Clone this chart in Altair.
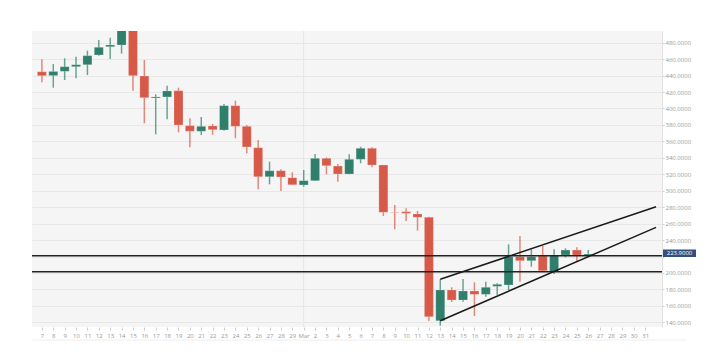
import altair as alt
import pandas as pd

# ---- data ----
dates = [
    "2024-02-07", "2024-02-08", "2024-02-09", "2024-02-10", "2024-02-11", "2024-02-12",
    "2024-02-13", "2024-02-14", "2024-02-15", "2024-02-16", "2024-02-17", "2024-02-18",
    "2024-02-19", "2024-02-20", "2024-02-21", "2024-02-22", "2024-02-23", "2024-02-24",
    "2024-02-25", "2024-02-26", "2024-02-27", "2024-02-28", "2024-02-29",
    "2024-03-01", "2024-03-02", "2024-03-03", "2024-03-04", "2024-03-05", "2024-03-06",
    "2024-03-07", "2024-03-08", "2024-03-09", "2024-03-10", "2024-03-11", "2024-03-12",
    "2024-03-13", "2024-03-14", "2024-03-15", "2024-03-16", "2024-03-17", "2024-03-18",
    "2024-03-19", "2024-03-20", "2024-03-21", "2024-03-22", "2024-03-23", "2024-03-24",
    "2024-03-25", "2024-03-26",
]
opens = [444.7, 440.0, 445.2, 450.8, 453.2, 465.0, 475.1, 477.2, 505.0, 439.5, 412.7, 414.0,
         421.6, 379.1, 372.3, 378.7, 373.8, 403.4, 378.3, 352.3, 317.0, 324.3, 315.8,
         307.0, 312.2, 339.4, 330.0, 320.3, 338.2, 351.6, 331.3, 274.0, 274.5, 271.7, 267.7,
         141.9, 179.3, 167.1, 178.1, 174.0, 183.7, 185.4, 219.8, 214.9, 220.6, 201.5, 221.8,
         227.9, 221.0]
highs = [459.8, 454.1, 461.0, 463.0, 470.3, 483.3, 486.0, 512.0, 510.0, 458.9, 417.2, 427.7,
         425.3, 388.1, 389.6, 381.1, 405.4, 409.5, 379.9, 361.7, 335.3, 326.0, 322.4,
         325.2, 344.6, 340.5, 332.5, 344.3, 353.5, 352.8, 331.5, 282.6, 278.6, 275.3, 268.5,
         192.3, 182.6, 192.6, 188.6, 189.4, 187.4, 234.8, 244.9, 228.8, 232.8, 228.8, 230.0,
         231.2, 227.9]
lows = [431.8, 425.3, 434.6, 436.7, 440.7, 464.2, 460.2, 466.6, 421.6, 382.0, 368.6, 386.8,
        371.0, 352.8, 367.7, 368.1, 373.0, 363.8, 345.5, 301.7, 307.8, 299.6, 307.0,
        304.9, 311.8, 320.0, 311.0, 320.0, 333.4, 328.5, 269.3, 253.1, 263.2, 251.4, 141.6,
        135.9, 164.7, 165.0, 147.7, 171.2, 173.2, 179.3, 189.4, 207.6, 201.5, 198.7, 219.0,
        213.7, 219.0]
closes = [439.9, 445.0, 450.8, 453.2, 464.2, 474.4, 477.2, 505.0, 439.9, 413.1, 414.0, 421.3,
          379.9, 372.3, 378.3, 374.2, 403.4, 378.3, 353.2, 317.0, 324.3, 316.7, 307.3,
          312.2, 339.4, 330.4, 320.3, 338.2, 351.6, 331.3, 273.8, 273.5, 272.5, 267.7, 146.8,
          179.3, 167.1, 178.1, 174.0, 182.6, 186.2, 219.8, 214.9, 219.8, 202.7, 221.8, 227.9,
          221.8, 223.0]

# trend channel lines
trend_names = ["upper", "lower"]
trend_start_dates = ["2024-03-13T00:00", "2024-03-13T00:00"]
trend_start_values = [192.3, 141.9]
trend_end_dates = ["2024-03-31T23:00", "2024-03-31T23:00"]
trend_end_values = [280.6, 255.5]

# horizontal levels
levels = [221.0, 201.5]
last_price = 223.9

month_starts = ["2024-03-01"]
y_ticks = list(range(140, 481, 20))
hidden_label = 220  # covered by the price marker in the reference

origin = pd.Timestamp("2024-02-07")
x_domain = [-0.43, 54.04]
y_domain = [134.3, 494.2]

GREEN = "#2f7f6c"
RED = "#d75a49"


def day_index(s):
    t = pd.to_datetime(pd.Series(s))
    return ((t - origin).dt.total_seconds() / 86400.0).tolist()


df = pd.DataFrame({
    "d": day_index(dates), "open": opens, "high": highs, "low": lows, "close": closes,
})
df["dir"] = ["up" if c >= o else "down" for o, c in zip(opens, closes)]

rows = []
for n, sd, sv, ed, ev in zip(trend_names, trend_start_dates, trend_start_values,
                             trend_end_dates, trend_end_values):
    rows.append({"line": n, "d": day_index([sd])[0], "v": sv})
    rows.append({"line": n, "d": day_index([ed])[0], "v": ev})
trend_df = pd.DataFrame(rows)

lvl_df = pd.DataFrame({"v": levels})
month_df = pd.DataFrame({"d": day_index(month_starts)})
price_df = pd.DataFrame({"v": [last_price], "lo": [last_price - 4.6], "hi": [last_price + 4.6],
                         "label": [f"{last_price:.4f}"]})

xscale = alt.Scale(domain=x_domain, nice=False, zero=False)
yscale = alt.Scale(domain=y_domain, nice=False, zero=False)
color = alt.Color("dir:N", scale=alt.Scale(domain=["up", "down"], range=[GREEN, RED]), legend=None)

label_expr = "datum.value < 23 ? '' + (datum.value + 7) : (datum.value == 23 ? 'Mar' : '' + (datum.value - 22))"
y_label_expr = f"datum.value == {hidden_label} ? '' : format(datum.value, '.4f')"

x_axis = alt.Axis(values=list(range(0, 54)), labelExpr=label_expr, title=None, grid=False,
                  labelFontSize=6, labelColor="#999999", labelFont="Open Sans",
                  tickSize=3, tickColor="#cccccc", domain=False, labelPadding=2,
                  labelFlush=False, labelOverlap=False)
y_axis = alt.Axis(orient="right", values=y_ticks, labelExpr=y_label_expr, title=None,
                  labelFontSize=6, labelColor="#999999", labelFont="Open Sans",
                  tickSize=2, tickColor="#cccccc", domainColor="#e2e2e2",
                  gridColor="#e8e8e8", gridWidth=1, labelPadding=1)


def X(field):
    return alt.X(field, scale=xscale, axis=x_axis)


def Y(field):
    return alt.Y(field, scale=yscale, axis=y_axis)


base = alt.Chart(df)

month_rule = alt.Chart(month_df).mark_rule(color="#e6e6e6", strokeWidth=1).encode(
    x=X("d:Q")
)

wicks = base.mark_rule(strokeWidth=1.5, opacity=0.7, clip=True).encode(
    x=X("d:Q"),
    y=Y("low:Q"),
    y2="high:Q",
    color=color,
)

bodies = base.mark_bar(size=9, clip=True, stroke="#ffffff", strokeOpacity=0.35, strokeWidth=0.6).encode(
    x=X("d:Q"),
    y=Y("open:Q"),
    y2="close:Q",
    color=color,
)

level_rules = alt.Chart(lvl_df).mark_rule(color="#222222", strokeWidth=1.5).encode(
    y=Y("v:Q")
)

trends = alt.Chart(trend_df).mark_line(color="#1a1a1a", strokeWidth=1.5, clip=True).encode(
    x=X("d:Q"),
    y=Y("v:Q"),
    detail="line:N",
)

price_box = alt.Chart(price_df).mark_rect(color="#33507d", clip=False).encode(
    x=alt.value(631), x2=alt.value(664),
    y=Y("lo:Q"), y2="hi:Q",
)
price_text = alt.Chart(price_df).mark_text(
    color="white", fontSize=6, font="Open Sans", align="center", baseline="middle", clip=False
).encode(
    x=alt.value(647.5),
    y=Y("v:Q"),
    text="label:N",
)

sep = alt.Chart(price_df).mark_rule(color="#eeeeee", strokeWidth=1).encode(
    x=alt.value(0), x2=alt.value(655), y=alt.value(309)
)

chart = alt.layer(
    month_rule, wicks, bodies, level_rules, trends, price_box, price_text, sep
).properties(
    width=630, height=296,
    autosize=alt.AutoSizeParams(type="none"),
    padding={"left": 32, "top": 31, "right": 58, "bottom": 28},
    background="white",
).configure_view(
    fill="#f5f5f5", stroke=None
)

chart.save("out.html", embed_options={"renderer": "svg", "actions": False})
